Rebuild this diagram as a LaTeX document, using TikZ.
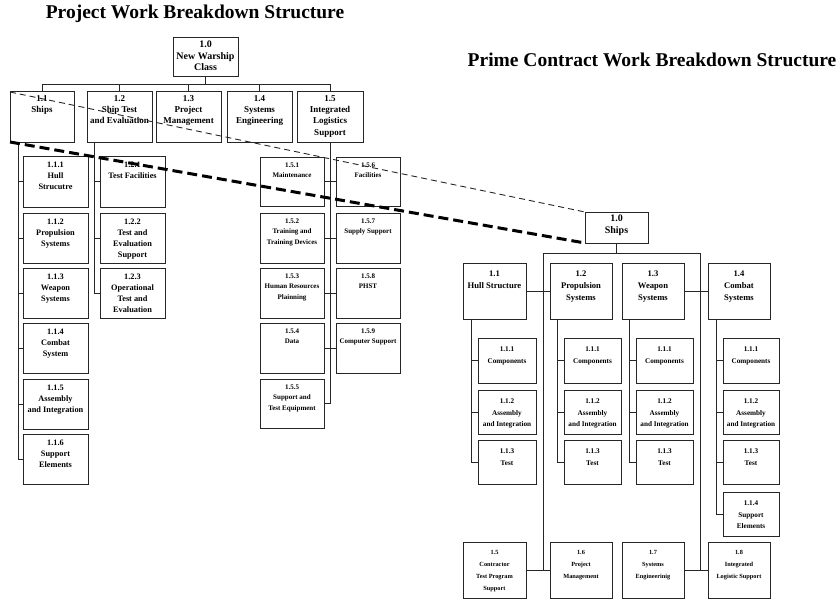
\documentclass[tikz,border=0pt]{standalone}
\usepackage{fontspec}
\setmainfont{Liberation Serif}
\newcommand{\wbsbox}[7][]{%
  \pgfmathsetmacro{\bxw}{#5-#3}%
  \pgfmathsetmacro{\bxh}{#6-#4}%
  \node[box,minimum width=\bxw pt,minimum height=\bxh pt] (#2) at ({(#3+#5)/2},{(#4+#6)/2}) {};%
  \node[boxtext,#1] (#2-t) at (#2.north) {#7};%
}
\begin{document}
\begin{tikzpicture}[x=1pt,y=-1pt,
  box/.style={draw=black!85,line width=1pt,inner sep=0pt,outer sep=0pt},
  boxtext/.style={anchor=north,align=center,inner sep=0pt,yshift=-3pt},
  conn/.style={draw=black!85,line width=0.8pt},
  title/.style={font=\fontsize{19.5}{22}\selectfont\bfseries,inner sep=0pt},
  f10/.style={font=\fontsize{10}{11.5}\selectfont\bfseries},
  f9/.style={font=\fontsize{9}{11.3}\selectfont\bfseries},
  f86/.style={font=\fontsize{8.6}{12}\selectfont\bfseries,yshift=-5pt},
  f85/.style={font=\fontsize{8.3}{11}\selectfont\bfseries,yshift=-3pt},
  f7/.style={font=\fontsize{7}{10.5}\selectfont\bfseries,yshift=-2.5pt},
  f72/.style={font=\fontsize{7.2}{11.5}\selectfont\bfseries,yshift=-6pt},
  f6/.style={font=\fontsize{6.3}{12}\selectfont\bfseries,yshift=-5pt},
  thindash/.style={draw=black!85,line width=0.9pt,dash pattern=on 6pt off 4pt},
  thickdash/.style={draw=black,line width=3pt,dash pattern=on 10pt off 5pt}]
\useasboundingbox (0,0) rectangle (840,599);

% titles
\node[title] (t1) at (195,14) {Project Work Breakdown Structure};
\node[title] (t2) at (652,60) {Prime Contract Work Breakdown Structure};

% ---------- left: project WBS ----------
\wbsbox[f10]{L0}{173}{38}{238}{77}{1.0\\New Warship\\Class}
\wbsbox[f9]{L1a}{10}{92}{74}{142}{1.1\\Ships}
\wbsbox[f9]{L1b}{87}{92}{152}{142}{1.2\\Ship Test\\and Evaluation}
\wbsbox[f9]{L1c}{156}{92}{221}{142}{1.3\\Project\\Management}
\wbsbox[f9]{L1d}{227}{92}{292}{142}{1.4\\Systems\\Engineering}
\wbsbox[f9]{L1e}{297}{92}{363}{142}{1.5\\Integrated\\Logistics\\Support}

\wbsbox[f85]{L11a}{23}{156}{88}{207}{1.1.1\\Hull\\Strucutre}
\wbsbox[f85]{L11b}{23}{213}{88}{263}{1.1.2\\Propulsion\\Systems}
\wbsbox[f85]{L11c}{23}{268}{88}{318}{1.1.3\\Weapon\\Systems}
\wbsbox[f85]{L11d}{23}{323}{88}{373}{1.1.4\\Combat\\System}
\wbsbox[f85]{L11e}{23}{379}{88}{429}{1.1.5\\Assembly\\and Integration}
\wbsbox[f85]{L11f}{23}{434}{88}{484}{1.1.6\\Support\\Elements}

\wbsbox[f85]{L12a}{100}{156}{165}{207}{1.2.1\\Test Facilities}
\wbsbox[f85]{L12b}{100}{213}{165}{263}{1.2.2\\Test and\\Evaluation\\Support}
\wbsbox[f85]{L12c}{100}{268}{165}{318}{1.2.3\\Operational\\Test and\\Evaluation}

\wbsbox[f7]{L151}{260}{157}{324}{206}{1.5.1\\Maintenance}
\wbsbox[f7]{L152}{260}{213}{324}{263}{1.5.2\\Training and\\Training Devices}
\wbsbox[f7]{L153}{260}{268}{324}{318}{1.5.3\\Human Resources\\Plainning}
\wbsbox[f7]{L154}{260}{323}{324}{373}{1.5.4\\Data}
\wbsbox[f7]{L155}{260}{379}{324}{428}{1.5.5\\Support and\\Test Equipment}
\wbsbox[f7]{L156}{336}{157}{400}{206}{1.5.6\\Facilities}
\wbsbox[f7]{L157}{336}{213}{400}{263}{1.5.7\\Supply Support}
\wbsbox[f7]{L158}{336}{268}{400}{318}{1.5.8\\PHST}
\wbsbox[f7]{L159}{336}{323}{400}{373}{1.5.9\\Computer Support}

% left connectors
\draw[conn] (L0.south) -- ++(0,7) coordinate (lbus);
\foreach \n in {L1a,L1b,L1c,L1d,L1e} \draw[conn] (\n.north) |- (lbus);
\foreach \n in {L11a,L11b,L11c,L11d,L11e,L11f} \draw[conn] ([xshift=8pt]L1a.south west) |- (\n.west);
\foreach \n in {L12a,L12b,L12c} \draw[conn] ([xshift=7pt]L1b.south west) |- (\n.west);
\draw[conn] (L1e.south) |- (L155.east);
\draw[conn] (L151.east) -- (L156.west);
\draw[conn] (L152.east) -- (L157.west);
\draw[conn] (L153.east) -- (L158.west);
\draw[conn] (L154.east) -- (L159.west);

% ---------- right: prime contract WBS ----------
\wbsbox[f10]{R0}{585}{212}{648}{243}{1.0\\Ships}
\wbsbox[f86]{R1}{463}{263}{526}{319}{1.1\\Hull Structure}
\wbsbox[f86]{R2}{550}{263}{612}{319}{1.2\\Propulsion\\Systems}
\wbsbox[f86]{R3}{622}{263}{684}{319}{1.3\\Weapon\\Systems}
\wbsbox[f86]{R4}{708}{263}{770}{319}{1.4\\Combat\\Systems}
\wbsbox[f6]{R5}{463}{542}{526}{598}{1.5\\Contractor\\Test Program\\Support}
\wbsbox[f6]{R6}{550}{542}{612}{598}{1.6\\Project\\Management}
\wbsbox[f6]{R7}{622}{542}{684}{598}{1.7\\Systems\\Engineerinig}
\wbsbox[f6]{R8}{708}{542}{770}{598}{1.8\\Integrated\\Logistic Support}

\wbsbox[f72]{R1a}{478}{338}{536}{383}{1.1.1\\Components}
\wbsbox[f72]{R1b}{478}{390}{536}{434}{1.1.2\\Assembly\\and Integration}
\wbsbox[f72]{R1c}{478}{440}{536}{484}{1.1.3\\Test}
\wbsbox[f72]{R2a}{564}{338}{621}{383}{1.1.1\\Components}
\wbsbox[f72]{R2b}{564}{390}{621}{434}{1.1.2\\Assembly\\and Integration}
\wbsbox[f72]{R2c}{564}{440}{621}{484}{1.1.3\\Test}
\wbsbox[f72]{R3a}{636}{338}{693}{383}{1.1.1\\Components}
\wbsbox[f72]{R3b}{636}{390}{693}{434}{1.1.2\\Assembly\\and Integration}
\wbsbox[f72]{R3c}{636}{440}{693}{484}{1.1.3\\Test}
\wbsbox[f72]{R4a}{723}{338}{779}{383}{1.1.1\\Components}
\wbsbox[f72]{R4b}{723}{390}{779}{434}{1.1.2\\Assembly\\and Integration}
\wbsbox[f72]{R4c}{723}{440}{779}{484}{1.1.3\\Test}
\wbsbox[f72]{R4d}{723}{492}{779}{536}{1.1.4\\Support\\Elements}

% right connectors
\coordinate (rbl) at (543,253);
\coordinate (rbr) at (700,253);
\draw[conn] (R0.south) -- (R0.south |- rbl);
\draw[conn] (rbl) -- (rbr);
\draw[conn] (rbl) -- (rbl |- R5.east);
\draw[conn] (rbr) -- (rbr |- R7.east);
\draw[conn] (R1.east) -- (R2.west);
\draw[conn] (R3.east) -- (R4.west);
\draw[conn] (R5.east) -- (R6.west);
\draw[conn] (R7.east) -- (R8.west);
\foreach \n in {R1a,R1b,R1c} \draw[conn] ([xshift=8pt]R1.south west) |- (\n.west);
\foreach \n in {R2a,R2b,R2c} \draw[conn] ([xshift=7pt]R2.south west) |- (\n.west);
\foreach \n in {R3a,R3b,R3c} \draw[conn] ([xshift=7pt]R3.south west) |- (\n.west);
\foreach \n in {R4a,R4b,R4c,R4d} \draw[conn] ([xshift=8pt]R4.south west) |- (\n.west);

% mapping lines
\draw[thindash] (L1a.north west) -- (R0.north west);
\draw[thickdash] (L1a.south west) -- (R0.south west);
\end{tikzpicture}
\end{document}
